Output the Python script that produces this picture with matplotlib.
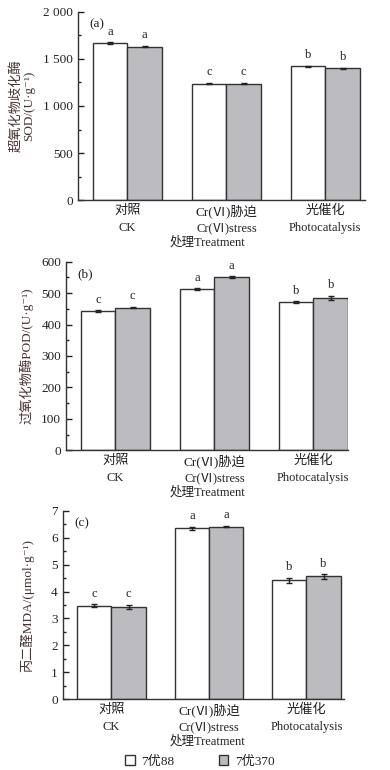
import matplotlib
matplotlib.use("Agg")
import matplotlib.pyplot as plt
import matplotlib.transforms as mtransforms
from matplotlib.ticker import MultipleLocator, FuncFormatter
from matplotlib.patches import Patch
import numpy as np

plt.rcParams.update({
    "font.family": ["Liberation Serif", "Noto Sans CJK SC", "DejaVu Sans"],
    "font.size": 9,
    "axes.linewidth": 1.0,
    "axes.edgecolor": "#333333",
    "xtick.color": "#222222",
    "ytick.color": "#222222",
    "text.color": "#222222",
})

# ===== 数据 =====
groups_cn = ["对照", "Cr(Ⅵ)胁迫", "光催化"]
groups_en = ["CK", "Cr(Ⅵ)stress", "Photocatalysis"]
series = ["7优88", "7优370"]

sod_88 = [1668, 1237, 1421]
sod_370 = [1630, 1237, 1400]
sod_err_88 = [8, 6, 8]
sod_err_370 = [8, 6, 8]
sod_sig = ["a", "c", "b"]

pod_88 = [443, 512, 471]
pod_370 = [454, 550, 484]
pod_err_88 = [2, 3, 3]
pod_err_370 = [2, 3, 7]
pod_sig = ["c", "a", "b"]

mda_88 = [3.47, 6.35, 4.42]
mda_370 = [3.44, 6.41, 4.56]
mda_err_88 = [0.05, 0.05, 0.10]
mda_err_370 = [0.07, 0.03, 0.08]
mda_sig = ["c", "a", "b"]

white_col = "#ffffff"
grey_col = "#bcbcc0"
edge_col = "#333333"
label_col = "#4a3232"

W, H = 390, 770
fig = plt.figure(figsize=(W / 100, H / 100), dpi=100)


def px_axes(left, top, right, bottom):
    return fig.add_axes([left / W, 1 - bottom / H, (right - left) / W, (bottom - top) / H])


panels = [
    dict(box=(78, 11.7, 365, 200.3), xmax=2.4, v1=sod_88, v2=sod_370, e1=sod_err_88, e2=sod_err_370,
         sig=sod_sig, ymax=2000, major=500, minor=250, tag="(a)",
         ylabel="超氧化物歧化酶\nSOD/(U·g⁻¹)", labx=-0.15),
    dict(box=(66, 261.7, 348, 450.3), xmax=2.35, v1=pod_88, v2=pod_370, e1=pod_err_88, e2=pod_err_370,
         sig=pod_sig, ymax=600, major=100, minor=50, tag="(b)",
         ylabel="过氧化物酶POD/(U·g⁻¹)", labx=-0.115),
    dict(box=(62.7, 510.7, 343.5, 699.3), xmax=2.38, v1=mda_88, v2=mda_370, e1=mda_err_88, e2=mda_err_370,
         sig=mda_sig, ymax=7, major=1, minor=0.5, tag="(c)",
         ylabel="丙二醛MDA/(μmol·g⁻¹)", labx=-0.10),
]

x = np.arange(len(groups_cn))
bw = 0.35


def thousands(v, pos):
    v = int(round(v))
    if v >= 1000:
        return f"{v // 1000} {v % 1000:03d}"
    return str(v)


for p in panels:
    ax = px_axes(*p["box"])
    ax_h = p["box"][3] - p["box"][1]
    ax.bar(x - bw / 2, p["v1"], width=bw, color=white_col, edgecolor=edge_col, linewidth=1.0,
           yerr=p["e1"], error_kw=dict(ecolor="#222222", elinewidth=1.0, capsize=2.5, capthick=1.0))
    ax.bar(x + bw / 2, p["v2"], width=bw, color=grey_col, edgecolor=edge_col, linewidth=1.0,
           yerr=p["e2"], error_kw=dict(ecolor="#222222", elinewidth=1.0, capsize=2.5, capthick=1.0))
    off = p["ymax"] * 0.025
    for i in range(len(groups_cn)):
        ax.text(x[i] - bw / 2, p["v1"][i] + p["e1"][i] + off, p["sig"][i], ha="center", va="bottom", fontsize=9)
        ax.text(x[i] + bw / 2, p["v2"][i] + p["e2"][i] + off, p["sig"][i], ha="center", va="bottom", fontsize=9)

    ax.set_xlim(-0.5, p["xmax"])
    ax.set_ylim(0, p["ymax"])
    ax.spines["top"].set_visible(False)
    ax.spines["right"].set_visible(False)
    ax.yaxis.set_major_locator(MultipleLocator(p["major"]))
    ax.yaxis.set_minor_locator(MultipleLocator(p["minor"]))
    if p["ymax"] >= 1000:
        ax.yaxis.set_major_formatter(FuncFormatter(thousands))
    ax.tick_params(axis="y", which="major", direction="in", length=4, width=1.0, labelsize=9.5)
    ax.tick_params(axis="y", which="minor", direction="in", length=2.5, width=1.0)
    ax.set_xticks(x)
    ax.set_xticklabels([])
    ax.tick_params(axis="x", length=0)

    # 两行分类标签 + 横轴标题
    trans = ax.get_xaxis_transform()
    for i in range(len(groups_cn)):
        ax.text(x[i], -11 / ax_h, groups_cn[i], transform=trans, ha="center", va="center", fontsize=9.5)
        ax.text(x[i], -28 / ax_h, groups_en[i], transform=trans, ha="center", va="center", fontsize=9)
    tr2 = mtransforms.blended_transform_factory(fig.transFigure, ax.transAxes)
    ax.text(208 / W, -42.5 / ax_h, "处理Treatment", transform=tr2, ha="center", va="center", fontsize=9)

    ax.set_ylabel(p["ylabel"], color=label_col, fontsize=9.5, linespacing=1.1)
    ax.yaxis.set_label_coords(p["labx"], 0.5)
    ax.text(0.04, 0.965, p["tag"], transform=ax.transAxes, ha="left", va="top", fontsize=9.5)

handles = [Patch(facecolor=white_col, edgecolor=edge_col, linewidth=1.0, label=series[0]),
           Patch(facecolor=grey_col, edgecolor=edge_col, linewidth=1.0, label=series[1])]
fig.legend(handles=handles, loc="center", bbox_to_anchor=(200 / W, 1 - 761.5 / H), ncol=2, frameon=False,
           fontsize=9.5, handlelength=0.7, handleheight=0.7, handletextpad=0.5, columnspacing=3.4,
           borderpad=0)

fig.savefig("out.png", dpi=100)
